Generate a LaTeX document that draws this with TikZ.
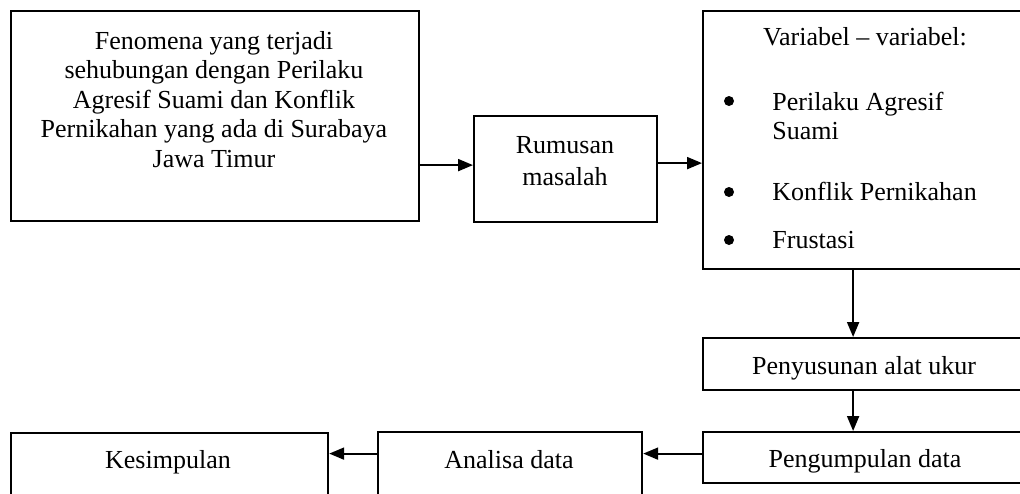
\documentclass[tikz,border=0pt]{standalone}
\usepackage{fontspec}
\setmainfont{Liberation Serif}
\usetikzlibrary{arrows.meta, positioning, calc}

\begin{document}
\begin{tikzpicture}[x=0.5pt, y=-0.5pt,
    box/.style={draw, line width=1.1pt, inner sep=0pt, anchor=north west},
    txt/.style={inner sep=0pt, font=\fontsize{13pt}{14.75pt}\selectfont},
    dot/.style={circle, fill, inner sep=0pt, minimum size=5pt},
    arr/.style={line width=1pt, -{Triangle[length=7.5pt, width=6pt]}}]
  \useasboundingbox (0,0) rectangle (1020,493);
  \fill[white] (0,0) rectangle (1020,493);
  \clip (0,0) rectangle (1020,493);
  % boxes
  \node[box, minimum width=204pt, minimum height=105pt] (fenomena) at (10,10) {};
  \node[box, minimum width=91.5pt, minimum height=53pt] (rumusan) at (473,115) {};
  \node[box, minimum width=163pt, minimum height=129pt] (variabel) at (702,10) {};
  \node[box, minimum width=163pt, minimum height=26pt] (penyusunan) at (702,337) {};
  \node[box, minimum width=163pt, minimum height=25.5pt] (pengumpulan) at (702,431) {};
  \node[box, minimum width=132pt, minimum height=34.5pt] (analisa) at (377,431) {};
  \node[box, minimum width=158.5pt, minimum height=34pt] (kesimpulan) at (10,432) {};
  % texts
  \node[txt, anchor=north, align=center] (fenomenatxt) at (214,31)
    {Fenomena yang terjadi\\sehubungan dengan Perilaku\\Agresif Suami dan Konflik\\Pernikahan yang ada di Surabaya\\Jawa Timur};
  \node[txt, anchor=north, align=center, font=\fontsize{13pt}{16pt}\selectfont] (rumusantxt) at (565,136) {Rumusan\\masalah};
  \node[txt, anchor=base] (variabeltxt) at (865,45) {Variabel -- variabel:};
  \foreach \yy/\name in {101/b1, 192/b2, 240/b3}
    \node[dot] (\name) at (729,\yy) {};
  \node[txt, anchor=north west, align=left] (item1) at (772,91.5) {Perilaku Agresif\\Suami};
  \node[txt, anchor=base west] (item2) at (772,200) {Konflik Pernikahan};
  \node[txt, anchor=base west] (item3) at (772,248) {Frustasi};
  \node[txt, anchor=base] (penyusunantxt) at (864,374) {Penyusunan alat ukur};
  \node[txt, anchor=base] (pengumpulantxt) at (865,467) {Pengumpulan data};
  \node[txt, anchor=base] (analisatxt) at (509,468) {Analisa data};
  \node[txt, anchor=base] (kesimpulantxt) at (168,468) {Kesimpulan};
  % arrows
  \draw[arr] ($(fenomena.east |- rumusan.west)+(0,-4)$) -- ($(rumusan.west)+(0,-4)$);
  \draw[arr] ($(rumusan.east)+(0,-6)$) -- ($(rumusan.east -| variabel.west)+(0,-6)$);
  \draw[arr] ($(variabel.south)+(-13,0)$) -- ($(penyusunan.north)+(-13,0)$);
  \draw[arr] ($(penyusunan.south)+(-13,0)$) -- ($(pengumpulan.north)+(-13,0)$);
  \draw[arr] ($(pengumpulan.west)+(0,-4)$) -- ($(pengumpulan.west -| analisa.east)+(0,-4)$);
  \draw[arr] ($(pengumpulan.west -| analisa.west)+(0,-4)$) -- ($(pengumpulan.west -| kesimpulan.east)+(0,-4)$);
\end{tikzpicture}
\end{document}
